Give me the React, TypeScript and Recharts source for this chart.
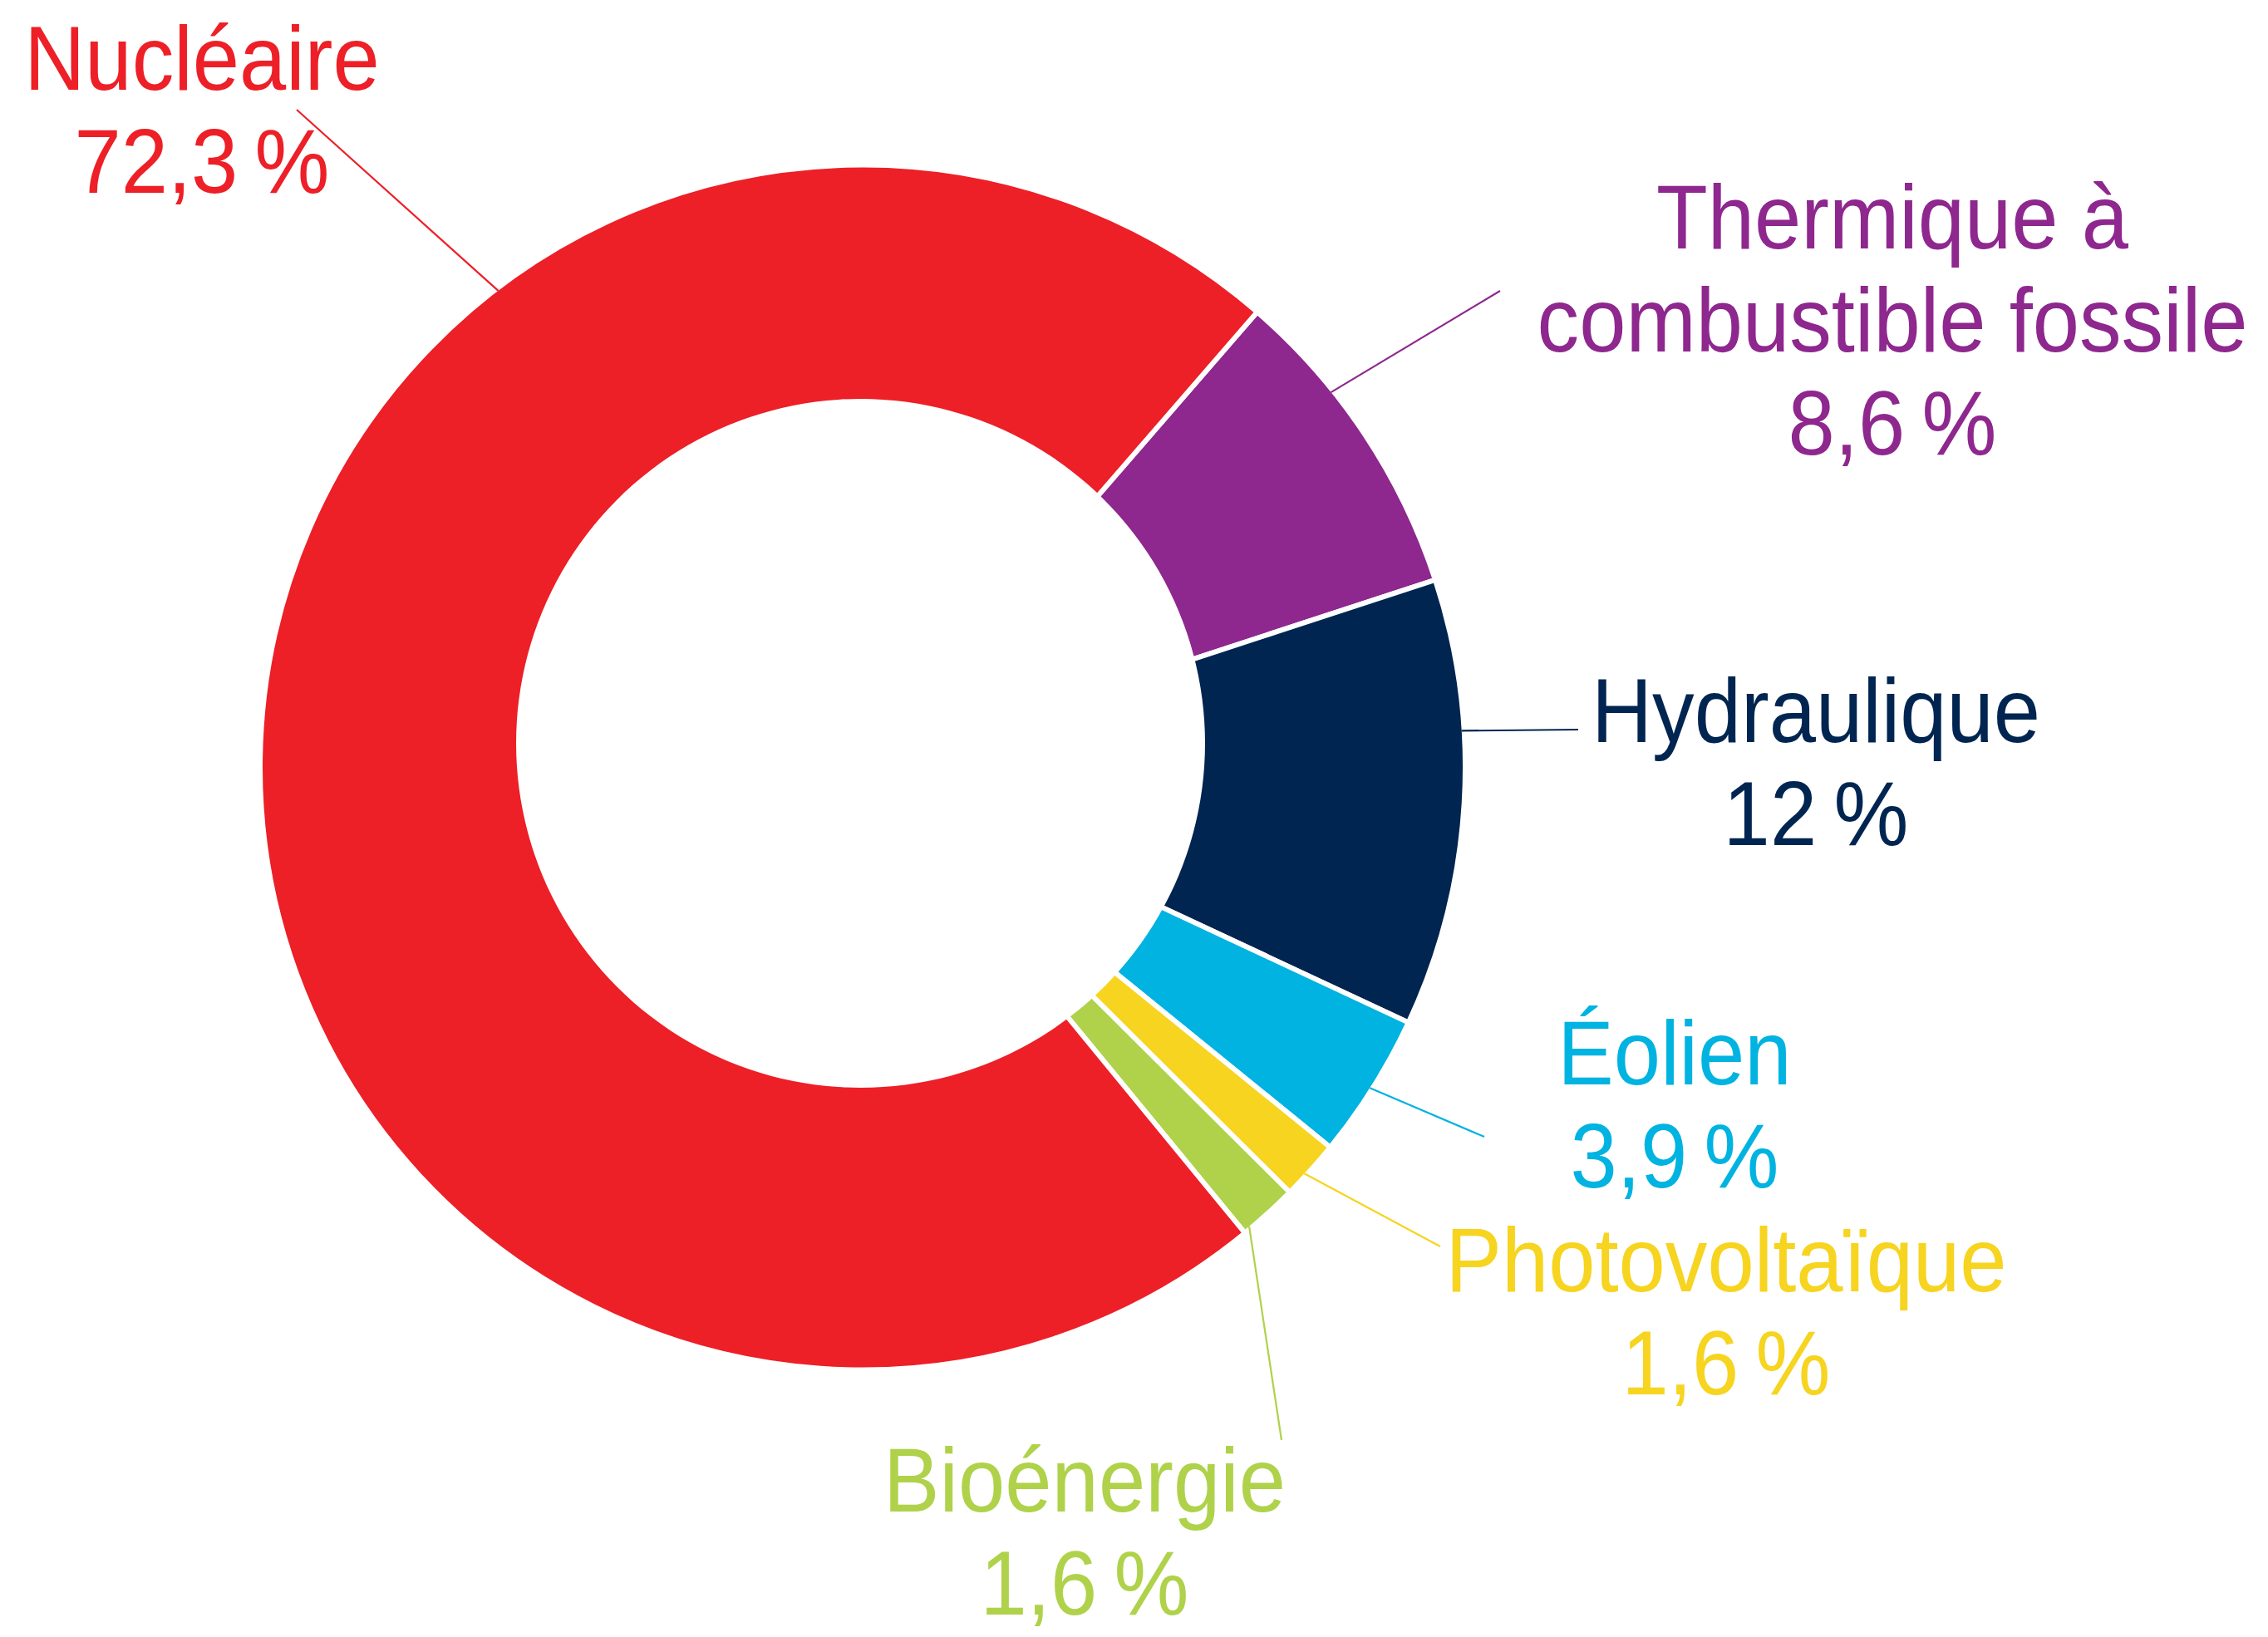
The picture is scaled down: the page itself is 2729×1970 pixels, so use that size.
import React from 'react';
import { PieChart, Pie, Cell } from 'recharts';

// ---- Data ----
const categories = [
  'Thermique à combustible fossile',
  'Hydraulique',
  'Éolien',
  'Photovoltaïque',
  'Bioénergie',
  'Nucléaire',
];
const values = [8.6, 12, 3.9, 1.6, 1.6, 72.3];
const valueLabels = ['8,6\u202F%', '12\u202F%', '3,9\u202F%', '1,6\u202F%', '1,6\u202F%', '72,3\u202F%'];
const nameLines = [
  ['Thermique à', 'combustible fossile'],
  ['Hydraulique'],
  ['Éolien'],
  ['Photovoltaïque'],
  ['Bioénergie'],
  ['Nucléaire'],
];
const colors = ['#8E278E', '#002551', '#00B3E0', '#F6D420', '#AFD24A', '#ED1F27'];

// ---- Layout (not data) ----
const W = 2729;
const H = 1970;
const CX = 1038;
const CY = 923.5;
const R_OUT = 725;
const HOLE_CX = 1035.5;
const HOLE_CY = 894.5;
const HOLE_R = 414.5;
const START = 49.1;
const FONT = "'Liberation Sans', Arial, sans-serif";
const FONT_SIZE = 110;
const SCALE_X = 0.92;
const LINE_H = 124;

const LABEL_LAYOUT = [
  { anchor: 38.7, ex: 1805, ey: 350, tx: 2277, ty: 299 },
  { anchor: 3.5, ex: 1899, ey: 878, tx: 2185, ty: 893 },
  { anchor: -32.3, ex: 1786, ey: 1368, tx: 2015, ty: 1305 },
  { anchor: -42.6, ex: 1733, ey: 1500, tx: 2077, ty: 1554 },
  { anchor: -49.9, ex: 1542, ey: 1733, tx: 1305, ty: 1819 },
  { anchor: 127.4, ex: 357, ey: 132, tx: 243, ty: 108 },
];

const data = categories.map((name, i) => ({ name, value: values[i] }));
const holeData = [{ name: 'hole', value: 1 }];

const renderLabel = (props: any) => {
  const { cx, cy, index } = props;
  const L = LABEL_LAYOUT[index];
  const rad = (L.anchor * Math.PI) / 180;
  const r = R_OUT - 3;
  const sx = cx + r * Math.cos(rad);
  const sy = cy - r * Math.sin(rad);
  const color = colors[index];
  const lines = [...nameLines[index], valueLabels[index]];
  return (
    <g key={`lbl-${index}`}>
      <line x1={sx} y1={sy} x2={L.ex} y2={L.ey} stroke={color} strokeWidth={2.2} />
      <text
        x={0}
        y={0}
        transform={`translate(${L.tx},${L.ty}) scale(${SCALE_X},1)`}
        textAnchor="middle"
        fill={color}
        fontSize={FONT_SIZE}
        fontFamily={FONT}
      >
        {lines.map((t, i) => (
          <tspan key={i} x={0} dy={i === 0 ? 0 : LINE_H}>
            {t}
          </tspan>
        ))}
      </text>
    </g>
  );
};

export default function App() {
  return (
    <div style={{ position: 'absolute', left: 0, top: 0, width: W, height: H, background: '#fff' }}>
      <PieChart width={W} height={H} margin={{ top: 0, right: 0, bottom: 0, left: 0 }}>
        <Pie
          data={data}
          dataKey="value"
          nameKey="name"
          cx={CX}
          cy={CY}
          innerRadius={0}
          outerRadius={R_OUT}
          startAngle={START}
          endAngle={START - 360}
          stroke="#ffffff"
          strokeWidth={6}
          label={renderLabel}
          labelLine={false}
          isAnimationActive={false}
        >
          {data.map((d, i) => (
            <Cell key={d.name} fill={colors[i]} />
          ))}
        </Pie>
        <Pie
          data={holeData}
          dataKey="value"
          cx={HOLE_CX}
          cy={HOLE_CY}
          innerRadius={0}
          outerRadius={HOLE_R}
          startAngle={0}
          endAngle={360}
          fill="#ffffff"
          stroke="none"
          isAnimationActive={false}
        />
      </PieChart>
    </div>
  );
}
